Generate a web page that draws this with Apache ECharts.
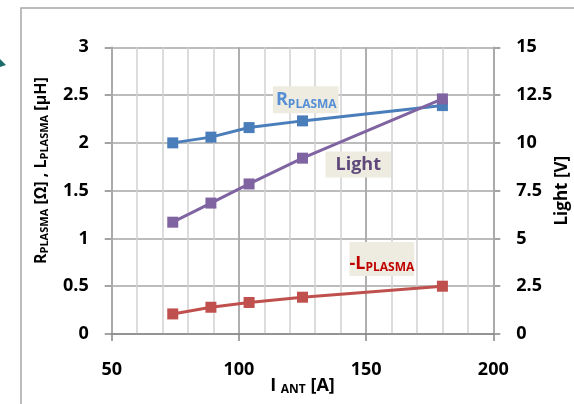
<!DOCTYPE html>
<html>
<head>
<meta charset="utf-8">
<script src="https://cdn.jsdelivr.net/npm/echarts@6/dist/echarts.min.js"></script>
<style>
html,body{margin:0;padding:0;background:#fff;}
#chart{width:574px;height:404px;}
</style>
</head>
<body>
<div id="chart"></div>
<script>
// Data
var currents = [74, 89, 104, 125, 180];          // I_ANT [A]
var rPlasma  = [2.0, 2.06, 2.16, 2.23, 2.39];    // R_PLASMA [Ω]
var lPlasma  = [0.21, 0.28, 0.33, 0.385, 0.5];   // -L_PLASMA [μH]
var light    = [5.85, 6.85, 7.85, 9.2, 12.3];    // Light [V]

var leftAxisRange = [0, 3, 0.5];
var rightAxisRange = [0, 15, 2.5];
var xAxisRange = [50, 200, 50];

function pairs(xs, ys){ return xs.map(function(x,i){ return [x, ys[i]]; }); }

var FONT = '"Open Sans"';
var chart = echarts.init(document.getElementById('chart'), null, {renderer:'canvas'});

var option = {
  animation:false,
  backgroundColor:'#ffffff',
  grid:{left:111.7, right:80.7, top:47.3, bottom:70, containLabel:false, outerBoundsMode:'none'},
  graphic:[
    {type:'rect', shape:{x:21, y:8, width:600, height:420}, style:{fill:'none', stroke:'#a6a6a6', lineWidth:1.5}, silent:true},
    {type:'polygon', shape:{points:[[0,59],[6,65],[0,67]]}, style:{fill:'#1d6b6b'}, silent:true}
  ],
  xAxis:[
    { // major axis with labels
      type:'value', min:xAxisRange[0], max:xAxisRange[1], interval:xAxisRange[2], position:'bottom',
      name:'{b|I }{s|ANT}{b| [A]}', nameLocation:'middle', nameGap:42, nameMoveOverlap:false,
      nameTextStyle:{fontFamily:FONT, fontWeight:'bold', fontSize:18, color:'#000',
        rich:{b:{fontFamily:FONT,fontWeight:'bold',fontSize:18,color:'#000'}, s:{fontFamily:FONT,fontWeight:'bold',fontSize:12,color:'#000',padding:[8,0,0,0]}}},
      axisLine:{show:true, onZero:false, lineStyle:{color:'#868686', width:1.5}},
      axisTick:{show:true, inside:false, length:7, lineStyle:{color:'#868686', width:1.5}},
      axisLabel:{show:true, margin:27, fontFamily:FONT, fontWeight:'bold', fontSize:18, color:'#000'},
      splitLine:{show:true, lineStyle:{color:'#a0a0a0', width:1.5}},
      z:3
    },
    { // minor grid lines every 10
      type:'value', min:xAxisRange[0], max:xAxisRange[1], interval:10, position:'bottom',
      axisLine:{show:false}, axisTick:{show:false}, axisLabel:{show:false},
      splitLine:{show:true, lineStyle:{color:'#d0d0d0', width:1.5}},
      z:1
    }
  ],
  yAxis:[
    {
      type:'value', min:leftAxisRange[0], max:leftAxisRange[1], interval:leftAxisRange[2], position:'left',
      name:'{b|R}{s|PLASMA}{b| [Ω] , L}{s|PLASMA}{b| [μH]}', nameLocation:'middle', nameGap:61, nameRotate:90, nameMoveOverlap:false,
      nameTextStyle:{fontFamily:FONT, fontWeight:'bold', fontSize:16, color:'#000', padding:[0,0,0,40],
        rich:{b:{fontFamily:FONT,fontWeight:'bold',fontSize:16,color:'#000'}, s:{fontFamily:FONT,fontWeight:'bold',fontSize:11,color:'#000',padding:[7,0,0,0]}}},
      axisLine:{show:true, lineStyle:{color:'#868686', width:1.5}},
      axisTick:{show:true, inside:false, length:7, lineStyle:{color:'#868686', width:1.5}},
      axisLabel:{margin:23, fontFamily:FONT, fontWeight:'bold', fontSize:18, color:'#000', padding:[5,0,0,0]},
      splitLine:{show:true, lineStyle:{color:'#a6a6a6', width:1.5}}
    },
    {
      type:'value', min:rightAxisRange[0], max:rightAxisRange[1], interval:rightAxisRange[2], position:'right',
      name:'Light [V]', nameLocation:'middle', nameGap:60, nameRotate:90, nameMoveOverlap:false,
      nameTextStyle:{fontFamily:FONT, fontWeight:'bold', fontSize:17, color:'#000'},
      axisLine:{show:true, lineStyle:{color:'#868686', width:1.5}},
      axisTick:{show:true, inside:false, length:7, lineStyle:{color:'#868686', width:1.5}},
      axisLabel:{margin:23, fontFamily:FONT, fontWeight:'bold', fontSize:18, color:'#000', padding:[5,0,0,0]},
      splitLine:{show:false}
    }
  ],
  series:[
    {
      name:'R_PLASMA', type:'line', xAxisIndex:0, yAxisIndex:0,
      data:pairs(currents, rPlasma),
      symbol:'rect', symbolSize:11, showAllSymbol:true,
      lineStyle:{color:'#4a7ebb', width:3}, itemStyle:{color:'#4a7ebb'},
      markPoint:{
        symbol:'rect', symbolSize:0, silent:true,
        data:[{coord:[126.3, 2.45]}],
        label:{show:true, position:'inside', backgroundColor:'#eeece1', padding:[4,2,3,3],
          formatter:'{b|R}{s|PLASMA}',
          rich:{b:{fontFamily:FONT,fontWeight:'bold',fontSize:18,color:'#558ed5'}, s:{fontFamily:FONT,fontWeight:'bold',fontSize:12,color:'#558ed5',padding:[8,0,0,0]}}}
      },
      z:5
    },
    {
      name:'Light', type:'line', xAxisIndex:0, yAxisIndex:1,
      data:pairs(currents, light),
      symbol:'rect', symbolSize:11, showAllSymbol:true,
      lineStyle:{color:'#8064a2', width:3}, itemStyle:{color:'#8064a2'},
      markPoint:{
        symbol:'rect', symbolSize:0, silent:true,
        data:[{coord:[146.9, 8.87]}],
        label:{show:true, position:'inside', backgroundColor:'#eeece1', padding:[4,10,4,10],
          formatter:'Light', fontFamily:FONT, fontWeight:'bold', fontSize:18, color:'#5f497a'}
      },
      z:6
    },
    {
      name:'-L_PLASMA', type:'line', xAxisIndex:0, yAxisIndex:0,
      data:pairs(currents, lPlasma),
      symbol:'rect', symbolSize:11, showAllSymbol:true,
      lineStyle:{color:'#c0504d', width:3}, itemStyle:{color:'#c0504d'},
      markPoint:{
        symbol:'rect', symbolSize:0, silent:true,
        data:[{coord:[156.2, 0.785]}],
        label:{show:true, position:'inside', backgroundColor:'#eeece1', padding:[12,0,2,0],
          formatter:'{b|-L}{s|PLASMA}',
          rich:{b:{fontFamily:FONT,fontWeight:'bold',fontSize:18,color:'#c00000'}, s:{fontFamily:FONT,fontWeight:'bold',fontSize:12,color:'#c00000',padding:[8,0,0,0]}}}
      },
      z:5
    }
  ]
};
chart.setOption(option);
</script>
</body>
</html>
